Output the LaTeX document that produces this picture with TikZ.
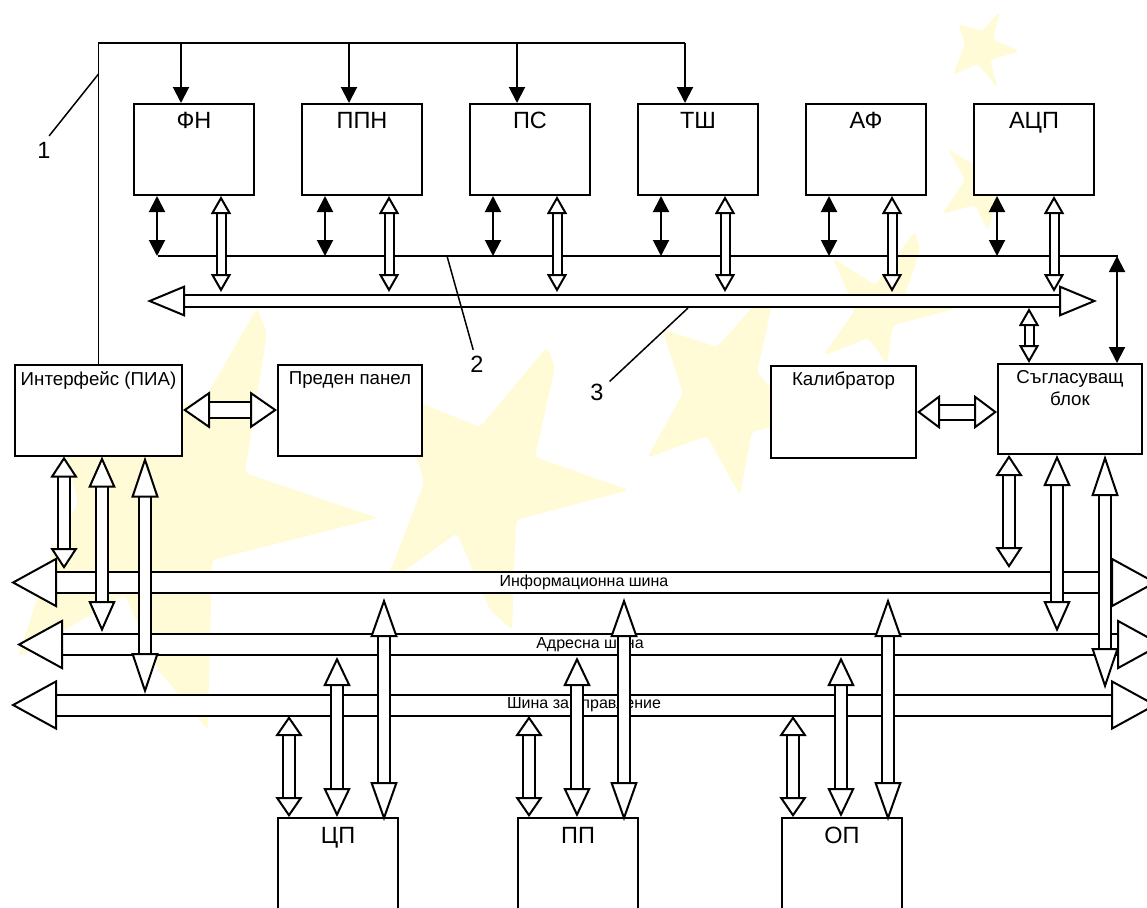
\documentclass[tikz,border=0pt]{standalone}
\usepackage{fontspec}
\setmainfont{Liberation Sans}
\usepackage{tikz}
\usetikzlibrary{arrows.meta, positioning}
\definecolor{starcol}{RGB}{255,251,214}

\begin{document}
\begin{tikzpicture}[x=1pt, y=-1pt, on grid,
    line width=2pt,
    blockarrow/.style n args={3}{double=white, double distance=#1,
        arrows={Triangle[open,fill=white,width=#2,length=#3]-Triangle[open,fill=white,width=#2,length=#3]}},
    thinarrow/.style={blockarrow={7pt}{20pt}{18pt}},
    midarrow/.style={blockarrow={10pt}{27pt}{#1}},
    busarrow/.style={blockarrow={19pt}{50pt}{46pt}, font=\fontsize{16}{18}\selectfont},
    darrow/.style={{Triangle[width=16pt,length=16pt]}-{Triangle[width=16pt,length=16pt]}},
    farrow/.style={-{Triangle[width=16pt,length=16pt]}},
    star/.style={fill=starcol, draw=none, rounded corners=4pt},
    boxtext/.style={anchor=north, inner sep=#1, align=center, font=\fontsize{23.5}{25}\selectfont},
    smalltext/.style={boxtext=#1, font=\fontsize{18.7}{22}\selectfont},
    block/.style={draw, fill=white, minimum width=120pt, minimum height=91pt, inner sep=0pt},
    numlabel/.style={inner sep=5pt, font=\fontsize{23.5}{25}\selectfont}]

    \useasboundingbox (0,0) rectangle (1147,907);
    \clip (0,0) rectangle (1147,907);

    \fill[star] (257,308) -- (267,333) -- (245,473) -- (378,518) -- (212,560) -- (208,730)
        -- (158,670) -- (125,595) -- (18,657) -- (53,550) -- (78,503) -- (60,430) -- (204,400) -- cycle;
    \fill[star] (547,347) -- (555,367) -- (535,457) -- (629,490) -- (516,520) -- (512,630)
        -- (490,610) -- (457,533) -- (385,585) -- (424,483) -- (400,395) -- (480,427) -- cycle;
    \fill[star] (767,291) -- (771,310) -- (757,372) -- (800,420) -- (752,432) -- (740,495)
        -- (707,436) -- (647,458) -- (683,393) -- (662,329) -- (717,347) -- cycle;
    \fill[star] (915,231) -- (920,250) -- (905,295) -- (955,309) -- (893,325) -- (887,364)
        -- (868,338) -- (823,356) -- (855,310) -- (833,258) -- (875,285) -- cycle;
    \fill[star] (948,149) -- (985,172) -- (1010,150) -- (1000,190) -- (988,231)
        -- (975,205) -- (942,214) -- (965,180) -- cycle;
    \fill[star] (1000,11) -- (993,40) -- (1020,51) -- (990,60) -- (998,89) -- (978,64)
        -- (953,75) -- (965,44) -- (958,24) -- (982,31) -- cycle;

    \node[block, label={[boxtext=8pt]north:ФН}] (fn) at (194,149.5) {};
    \node[block, label={[boxtext=8pt]north:ППН}, right=168pt of fn] (ppn) {};
    \node[block, label={[boxtext=8pt]north:ПС}, right=168pt of ppn] (ps) {};
    \node[block, label={[boxtext=8pt]north:ТШ}, right=168pt of ps] (tsh) {};
    \node[block, label={[boxtext=8pt]north:АФ}, right=168pt of tsh] (af) {};
    \node[block, label={[boxtext=8pt]north:АЦП}, right=168pt of af] (adc) {};

    \node[block, minimum width=167pt, label={[smalltext=7pt]north:Интерфейс (ПИА)}] (ifc) at (98.5,410) {};
    \node[block, minimum width=144pt, label={[smalltext=7pt]north:Преден панел}, right=251.5pt of ifc] (panel) {};
    \node[block, minimum width=145pt, minimum height=92pt, label={[smalltext=6pt]north:Калибратор}] (cal) at (843.5,412) {};
    \node[block, minimum width=144pt, minimum height=90pt,
        label={[smalltext=6pt]north:Съгласуващ\\блок}] (match) at (1070,409) {};

    \node[block, minimum height=120pt, label={[boxtext=9pt]north:ЦП}] (cpu) at (338,878) {};
    \node[block, minimum height=120pt, label={[boxtext=9pt]north:ПП}, right=240pt of cpu] (pp) {};
    \node[block, minimum height=120pt, label={[boxtext=9pt]north:ОП}, right=264pt of pp] (op) {};

    \coordinate (feed) at (98.5,43);
    \coordinate (linew) at (158,256);
    \coordinate (linee) at (1118,256);
    \coordinate (busw) at (147,301);
    \coordinate (buse) at (1097,301);
    \coordinate (infw) at (11,582.5);
    \coordinate (infe) at (1157,582.5);
    \coordinate (adrw) at (17,644.5);
    \coordinate (adre) at (1163,644.5);
    \coordinate (ctlw) at (11,705);
    \coordinate (ctle) at (1157,705);
    \coordinate (infn) at (0,572);
    \coordinate (infs) at (0,593);
    \coordinate (adrn) at (0,634);
    \coordinate (adrs) at (0,655);
    \coordinate (ctln) at (0,694);
    \coordinate (ctls) at (0,716);

    \draw[line width=1.5pt] (ifc.north) -- (feed) -- ([xshift=48pt]tsh.north west |- feed);
    \draw[line width=1.5pt] (linew) -- (linee);
    \draw[blockarrow={10pt}{31pt}{38pt}] (busw) -- (buse);

    \draw[busarrow] (infw) -- node {Информационна шина} (infe);
    \draw[busarrow] (adrw) -- node {Адресна шина} (adre);
    \draw[busarrow] (ctlw) -- node {Шина за управление} (ctle);

    \foreach \block in {fn, ppn, ps, tsh} {
        \draw[farrow] ([xshift=48pt]\block.north west |- feed) -- ([xshift=48pt]\block.north west);
    }
    \foreach \block/\dx in {fn/88, ppn/88, ps/88, tsh/88, af/87, adc/81} {
        \draw[darrow] ([xshift=24pt]\block.south west) -- ([xshift=24pt]\block.south west |- linew);
        \draw[thinarrow, shorten >=9pt] ([xshift=\dx pt]\block.south west) -- ([xshift=\dx pt]\block.south west |- busw);
    }
    \draw[darrow] ([xshift=120pt]match.north west |- linee) -- ([xshift=120pt]match.north west);
    \draw[thinarrow] ([xshift=32pt]match.north west) -- ([xshift=32pt, yshift=-7pt]match.north west |- busw);

    \draw[blockarrow={14pt}{37pt}{27pt}] (ifc.east) -- (panel.west);
    \draw[blockarrow={13pt}{34pt}{23pt}] (cal.east) -- (cal.east -| match.west);

    \foreach \dx/\bus/\hl/\sh in {50/infn/21/3, 88/adrn/31/2, 131/ctln/41/0} {
        \draw[midarrow=\hl pt, shorten >=\sh pt] ([xshift=\dx pt]ifc.south west) -- ([xshift=\dx pt]ifc.south west |- \bus);
    }
    \foreach \dx/\bus/\hl/\sh in {12/infn/21/4, 60/adrn/31/2, 108/ctln/41/5} {
        \draw[midarrow=\hl pt, shorten >=\sh pt] ([xshift=\dx pt]match.south west) -- ([xshift=\dx pt]match.south west |- \bus);
    }
    \foreach \block in {cpu, pp, op} {
        \draw[midarrow=20pt] ([xshift=12pt]\block.north west) -- ([xshift=12pt]\block.north west |- ctls);
        \draw[midarrow=29pt, shorten >=2pt] ([xshift=60pt]\block.north west) -- ([xshift=60pt]\block.north west |- adrs);
        \draw[midarrow=39pt, shorten >=5pt, shorten <=-4pt] ([xshift=107pt]\block.north west) -- ([xshift=107pt]\block.north west |- infs);
    }

    \node[numlabel] (n1) at (44,150) {1};
    \node[numlabel] (n2) at (477,364) {2};
    \node[numlabel] (n3) at (597,392) {3};
    \coordinate (t1) at (98.5,74);
    \coordinate (t2) at (447,256);
    \coordinate (t3) at (688,308);
    \draw[line width=1.5pt] (n1.70) -- (t1);
    \draw[line width=1.5pt] (n2.105) -- (t2);
    \draw[line width=1.5pt] (n3.40) -- (t3);
\end{tikzpicture}
\end{document}
